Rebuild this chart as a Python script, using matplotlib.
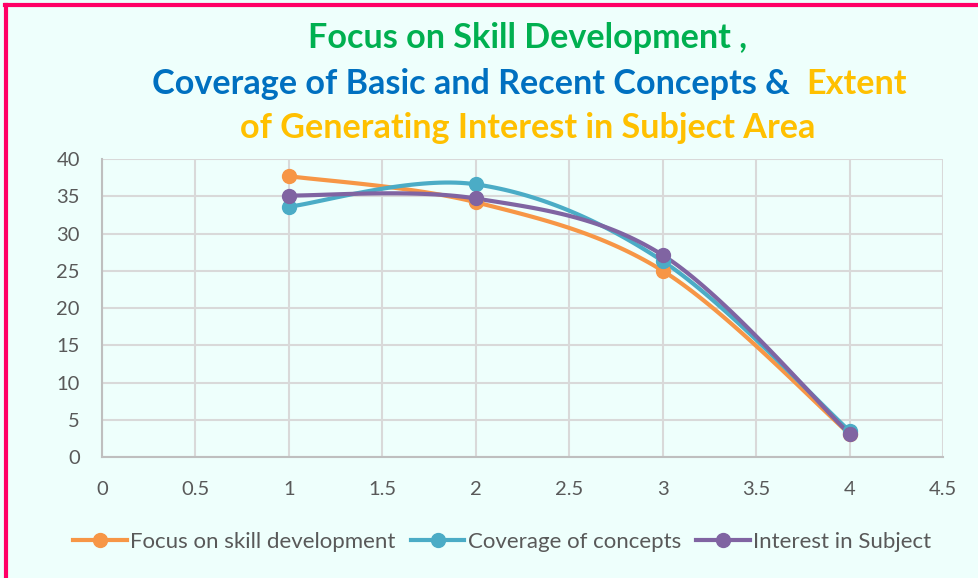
import matplotlib
matplotlib.use('Agg')
import matplotlib.pyplot as plt
from matplotlib.lines import Line2D
import numpy as np

x = [1, 2, 3, 4]
skill = [37.7, 34.2, 25.0, 3.1]
concepts = [33.6, 36.6, 26.3, 3.5]
interest = [35.1, 34.7, 27.1, 3.1]
labels = ['Focus on skill development', 'Coverage of concepts', 'Interest in Subject']
colors = ['#F79646', '#4BACC6', '#8064A2']
xticks = [0, 0.5, 1, 1.5, 2, 2.5, 3, 3.5, 4, 4.5]
yticks = [0, 5, 10, 15, 20, 25, 30, 35, 40]

BG = '#EEFFFC'
GRID = '#D9D9D9'
TXT = '#595959'
FONT = ['Lato', 'DejaVu Sans']


def smooth(xs, ys, n=40):
    # excel-like bezier smoothing through the points
    p = np.column_stack([xs, ys]).astype(float)
    p = np.vstack([p[0], p, p[-1]])
    out = []
    for i in range(1, len(p) - 2):
        p0, p1, p2, p3 = p[i - 1], p[i], p[i + 1], p[i + 2]
        b1 = p1 + (p2 - p0) / 6
        b2 = p2 - (p3 - p1) / 6
        t = np.linspace(0, 1, n)[:, None]
        seg = (1 - t) ** 3 * p1 + 3 * (1 - t) ** 2 * t * b1 + 3 * (1 - t) * t ** 2 * b2 + t ** 3 * p2
        out.append(seg if i == 1 else seg[1:])
    seg = np.vstack(out)
    return seg[:, 0], seg[:, 1]


fig = plt.figure(figsize=(9.79, 5.78), dpi=100, facecolor=BG)
ax = fig.add_axes([0.1042, 0.2093, 0.8590, 0.5156])
ax.set_facecolor(BG)

for ys, c in zip([skill, concepts, interest], colors):
    sx, sy = smooth(x, ys)
    ax.plot(sx, sy, color=c, lw=3, solid_capstyle='round', zorder=3)
    ax.plot(x, ys, 'o', color=c, ms=10, zorder=4)

ax.set_xlim(0, 4.5)
ax.set_ylim(0, 40)
ax.set_xticks(xticks)
ax.set_yticks(yticks)
ax.set_xticklabels([('%g' % v) for v in xticks])
ax.grid(True, color=GRID, lw=1.5, zorder=0)
for s in ['top', 'right']:
    ax.spines[s].set_visible(False)
for s in ['left', 'bottom']:
    ax.spines[s].set_color('#BFBFBF')
    ax.spines[s].set_linewidth(1.5)
ax.tick_params(length=0, labelsize=14.5, labelcolor=TXT)
ax.tick_params(axis='x', pad=17)
ax.tick_params(axis='y', pad=16)
for t in ax.get_xticklabels() + ax.get_yticklabels():
    t.set_family(FONT)

# legend
handles = [Line2D([0], [0], color=c, lw=3, marker='o', ms=10) for c in colors]
fig.legend(handles, labels, loc='center', bbox_to_anchor=(0.513, 0.063), ncol=3,
           frameon=False, prop={'family': FONT, 'size': 16}, labelcolor=TXT,
           handlelength=2.4, handletextpad=0.15, columnspacing=0.7)

# title, three lines with mixed colours
tprops = dict(fontsize=24.6, fontweight='bold', family=FONT, ha='center', va='center')
fig.text(0.539, 0.934, 'Focus on Skill Development ,', color='#00B050', **tprops)
fig.text(0.539, 0.778, 'of Generating Interest in Subject Area', color='#FFC000', **tprops)

r = fig.canvas.get_renderer()
p1 = fig.text(0, 0.855, 'Coverage of Basic and Recent Concepts &  ', color='#0070C0',
              **{**tprops, 'ha': 'left'})
p2 = fig.text(0, 0.855, 'Extent', color='#FFC000', **{**tprops, 'ha': 'left'})
w1 = p1.get_window_extent(r).width
w2 = p2.get_window_extent(r).width
x0 = 0.541 * fig.bbox.width - (w1 + w2) / 2
p1.set_x(x0 / fig.bbox.width)
p2.set_x((x0 + w1) / fig.bbox.width)

# pink frame edges
fig.add_artist(Line2D([0.005, 1], [0.991, 0.991], color='#FF0066', lw=3))
fig.add_artist(Line2D([0.0066, 0.0066], [0, 0.991], color='#FF0066', lw=3))

fig.savefig('out.png', dpi=100, facecolor=BG)
